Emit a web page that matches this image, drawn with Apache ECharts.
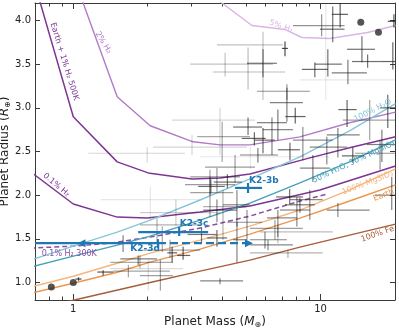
<!DOCTYPE html>
<html>
<head>
<meta charset="utf-8">
<script src="https://cdn.jsdelivr.net/npm/echarts@6/dist/echarts.min.js"></script>
<style>
  html, body { margin: 0; padding: 0; background: #fff; }
  #main { width: 399px; height: 330px; }
</style>
</head>
<body>
<div id="main"></div>
<script>
// axis ticks
const xMajorTicks = [1, 10];
const xMinorTicks = [0.8, 0.9, 2, 3, 4, 5, 6, 7, 8, 9, 20];
const yTicks = [1.0, 1.5, 2.0, 2.5, 3.0, 3.5, 4.0];

// measured planets: [mass, massLo, massHi, radius, radiusLo, radiusHi]
const planets = [
  [7.18, 6.98, 7.38, 3.68, 3.59, 3.76], [5.85, 3.81, 7.05, 3.72, 3.09, 3.87],
  [4.11, 2.97, 6.42, 3.50, 3.36, 3.63], [5.09, 3.67, 7.18, 3.41, 3.21, 3.69],
  [5.85, 5.04, 6.66, 3.51, 3.35, 3.67], [7.31, 5.53, 9.05, 3.19, 3.09, 3.27],
  [11.2, 9.94, 12.5, 3.90, 3.75, 4.16], [12.0, 11.1, 12.9, 4.07, 3.92, 4.20],
  [10.1, 7.73, 12.5, 3.94, 3.82, 4.07], [14.7, 12.8, 16.6, 3.67, 3.52, 3.82],
  [15.5, 13.4, 17.7, 3.53, 3.46, 3.61], [19.6, 17.7, 21.0, 3.53, 3.44, 3.75],
  [10.7, 9.48, 12.2, 3.50, 3.36, 3.67], [9.48, 8.40, 10.7, 3.44, 3.35, 3.52],
  [12.9, 11.1, 15.4, 3.40, 3.27, 3.55], [10.5, 8.25, 20.1, 3.32, 3.09, 4.25],
  [19.8, 18.7, 21.0, 3.99, 3.92, 4.07], [7.31, 6.24, 8.48, 3.06, 2.84, 3.23],
  [12.8, 11.8, 14.0, 2.98, 2.78, 3.09], [18.7, 17.4, 20.1, 3.00, 2.77, 3.15],
  [6.36, 5.85, 7.73, 2.75, 2.46, 2.89], [6.72, 5.53, 7.31, 2.83, 2.63, 2.98],
  [8.48, 7.73, 11.2, 2.63, 2.40, 2.78], [10.6, 9.05, 12.8, 2.55, 2.35, 2.67],
  [11.75, 10.6, 14.4, 2.69, 2.43, 2.77], [9.31, 8.25, 10.9, 2.31, 2.15, 2.46],
  [17.7, 15.4, 20.1, 2.58, 2.38, 2.75], [5.85, 5.43, 6.54, 2.63, 2.48, 2.77],
  [3.92, 2.51, 5.43, 2.86, 2.46, 3.00], [4.00, 3.17, 5.18, 2.67, 2.38, 2.84],
  [3.02, 2.10, 5.04, 2.55, 2.46, 2.69], [1.99, 1.15, 2.83, 2.48, 2.37, 2.55],
  [5.09, 4.43, 5.80, 2.78, 2.69, 2.89], [4.51, 3.41, 5.43, 2.32, 2.14, 2.46],
  [3.81, 2.97, 4.72, 2.21, 2.04, 2.31], [3.57, 2.83, 4.51, 2.12, 2.00, 2.29],
  [5.58, 4.72, 6.72, 2.46, 2.37, 2.54], [7.52, 6.72, 8.25, 2.52, 2.40, 2.60],
  [19.4, 16.6, 21.0, 2.00, 1.83, 2.21], [9.05, 7.52, 10.2, 1.95, 1.72, 2.06],
  [8.02, 6.85, 9.05, 1.83, 1.64, 1.98], [11.75, 10.6, 15.8, 1.83, 1.75, 1.91],
  [6.72, 6.07, 8.02, 1.74, 1.52, 1.83], [6.54, 5.18, 8.48, 1.62, 1.49, 1.72],
  [6.72, 5.69, 11.2, 1.58, 1.45, 1.66], [5.96, 5.18, 7.31, 1.49, 1.39, 1.58],
  [6.13, 5.18, 7.73, 1.43, 1.37, 1.49], [7.38, 5.18, 10.2, 1.34, 1.28, 1.37],
  [8.25, 7.18, 9.48, 1.89, 1.80, 1.97], [4.03, 3.35, 5.04, 1.87, 1.49, 2.06],
  [4.59, 4.03, 5.18, 1.89, 1.64, 2.06], [3.81, 3.48, 4.19, 1.51, 1.41, 1.60],
  [4.59, 4.43, 5.04, 1.49, 1.23, 1.69], [1.86, 1.41, 2.53, 1.23, 1.16, 1.31],
  [1.32, 1.25, 1.45, 1.12, 1.08, 1.14], [2.01, 1.41, 2.78, 1.16, 0.91, 1.26],
  [2.51, 2.40, 2.63, 1.34, 1.23, 1.41], [2.78, 2.63, 2.97, 1.31, 1.26, 1.41],
  [2.46, 1.92, 3.26, 1.37, 1.28, 1.49], [2.25, 1.86, 2.53, 1.08, 0.91, 1.26],
  [3.92, 3.26, 4.86, 1.02, 0.98, 1.05], [1.67, 1.45, 2.46, 1.13, 1.06, 1.20],
  [1.83, 1.55, 2.18, 1.27, 1.20, 1.31], [2.18, 1.86, 3.26, 1.66, 1.46, 1.74],
  [2.29, 1.99, 3.26, 1.58, 1.35, 1.64], [3.57, 2.97, 4.43, 2.03, 1.75, 2.21],
  [3.81, 3.35, 4.59, 1.83, 1.69, 1.95], [5.04, 4.19, 5.80, 1.69, 1.49, 1.83],
  [1.59, 1.41, 1.92, 1.45, 1.35, 1.54], [1.05, 1.02, 1.08, 1.04, 1.02, 1.06],
  [15.8, 12.3, 20.1, 2.86, 2.63, 3.09], [17.4, 13.8, 21.0, 2.48, 2.29, 2.63],
  [2.05, 1.29, 3.26, 1.95, 1.72, 2.10], [5.2, 3.26, 10.9, 2.44, 2.30, 2.55],
  [2.6, 1.86, 3.92, 1.80, 1.65, 1.95], [3.6, 3.2, 4.1, 2.10, 2.02, 2.18],
  [4.2, 3.7, 4.8, 2.15, 2.08, 2.24], [7.9, 7.2, 8.7, 2.90, 2.82, 3.00],
  [5.4, 4.8, 6.0, 2.65, 2.57, 2.72], [13.5, 12.2, 15.0, 2.45, 2.37, 2.55],
  [3.3, 2.9, 3.8, 1.55, 1.46, 1.63], [7.5, 6.6, 8.5, 1.98, 1.90, 2.07]
];

// Venus, Earth, Uranus, Neptune
const solarSystem = [[0.815, 0.949], [1.0, 1.0], [14.54, 3.98], [17.15, 3.865]];

// K2-3 b and c: [mass, massLo, massHi, radius, radiusLo, radiusHi]
const k23bc = [[5.09, 4.51, 5.80, 2.083, 2.025, 2.14], [2.68, 1.83, 3.51, 1.577, 1.532, 1.635]];
// K2-3 d: [mass, radius, radiusLo, radiusHi], mass arrows (upper limit left, dashed right)
const k23d = [2.20, 1.451, 1.394, 1.497];
const k23dArrows = [1.04, 5.33];

// composition models [mass, radius]
const h2_1pct500K = [[0.727, 4.25], [1.0, 2.898], [1.505, 2.381], [2.008, 2.255], [3.023, 2.186], [3.92, 2.197], [5.18, 2.243], [9.05, 2.427], [13.1, 2.542], [20.1, 2.668]];
const h2_2pct = [[1.08, 4.25], [1.505, 3.127], [2.046, 2.795], [3.052, 2.611], [3.92, 2.576], [5.18, 2.576], [8.25, 2.668], [13.1, 2.829], [20.1, 2.95]];
const h2_5pct = [[3.78, 4.25], [5.28, 3.943], [7.18, 3.897], [8.40, 3.805], [10.9, 3.793], [15.5, 3.862], [20.1, 3.943]];
const h2_01pct = [[0.67, 2.27], [1.0, 1.899], [1.505, 1.749], [1.99, 1.738], [3.256, 1.807], [5.18, 1.876], [9.94, 2.06], [20.1, 2.335]];
const h2_01pct300K = [[0.67, 1.394], [1.0, 1.417], [1.411, 1.451], [2.046, 1.52], [3.256, 1.623], [5.18, 1.761], [8.25, 1.933], [10.7, 2.014]];
const water100 = [[0.67, 1.256], [1.0, 1.417], [1.505, 1.577], [2.046, 1.715], [3.256, 1.945], [5.18, 2.186], [8.25, 2.439], [13.1, 2.737], [20.1, 3.047]];
const water50 = [[0.67, 1.176], [1.0, 1.302], [1.505, 1.428], [2.046, 1.532], [3.256, 1.715], [5.18, 1.91], [8.25, 2.14], [13.1, 2.381], [20.1, 2.634]];
const mgsio3 = [[0.67, 0.946], [1.0, 1.072], [1.505, 1.221], [2.046, 1.336], [3.256, 1.486], [5.18, 1.646], [8.25, 1.83], [13.1, 2.06], [20.1, 2.301]];
const earthLike = [[0.67, 0.877], [1.0, 0.992], [1.505, 1.118], [2.046, 1.233], [3.256, 1.383], [5.18, 1.555], [8.25, 1.738], [13.1, 1.933], [20.1, 2.117]];
const iron100 = [[0.67, 0.68], [1.0, 0.797], [2.046, 1.0], [3.256, 1.13], [5.18, 1.256], [8.25, 1.405], [13.1, 1.543], [20.1, 1.669]];

// text labels and where they sit [mass, radius]
const labelTexts = ['Earth + 1% H₂ 500K', '2% H₂', '5% H₂', '0.1% H₂', '0.1% H₂ 300K', '100% H₂O',
  '50% H₂O, 50% MgSiO₃', '100% MgSiO₃', 'Earth', '100% Fe', 'K2-3b', 'K2-3c', 'K2-3d'];
const labelAnchors = [[0.92, 3.53], [1.322, 3.747], [6.92, 3.931], [0.854, 2.117], [0.963, 1.325], [16.26, 2.967],
  [13.6, 2.381], [15.5, 2.14], [18.0, 2.0], [17.0, 1.555], [5.90, 2.163], [3.08, 1.669], [1.953, 1.383]];

const FONT = 'DejaVu Sans';
const purpleDark = '#7e3595', purpleMid = '#b27bc8', purpleLight = '#d9b6e4', purpleDash = '#8a4ea6';
const cyanLight = '#86c6d8', teal = '#46a0ba', orangeLight = '#f4b67c', orange = '#ec964c', brown = '#a65d39';
const blue = '#1f77b4';
// rotation (deg), colour, font for each label
const labelStyles = [
  [-73, purpleDark, '8px'], [-59, purpleMid, '8px'], [-20, purpleLight, '8px'], [-40, purpleDark, '8px'],
  [0, purpleDash, '8px'], [27, cyanLight, '8px'], [25, teal, '8px'], [21, orangeLight, '8px'],
  [22, orange, '8px'], [19, brown, '8px'], [0, blue, 'bold 9px'], [0, blue, 'bold 9px'], [0, blue, 'bold 9px']
];

const chart = echarts.init(document.getElementById('main'), null, {renderer: 'canvas'});

function curve(data, color, width, dashed) {
  return {
    type: 'line', data: data, showSymbol: false, silent: true, z: 2, clip: true,
    lineStyle: {color: color, width: width, type: dashed ? [5, 3] : 'solid'}
  };
}

// grey error bars, fainter when the errors are larger
function errorBarItem(params, api) {
  const m = api.value(0), mLo = api.value(1), mHi = api.value(2);
  const r = api.value(3), rLo = api.value(4), rHi = api.value(5);
  const c = api.coord([m, r]);
  const xl = api.coord([mLo, r])[0], xh = api.coord([mHi, r])[0];
  const yl = api.coord([m, rLo])[1], yh = api.coord([m, rHi])[1];
  const spread = Math.log10(mHi / mLo) + Math.log10(rHi / rLo);
  const a = Math.min(0.8, Math.max(0.1, 0.85 - 1.6 * spread));
  const style = {stroke: 'rgba(25,25,25,' + a.toFixed(3) + ')', lineWidth: 1.2};
  return {
    type: 'group', children: [
      {type: 'line', shape: {x1: xl, y1: c[1], x2: xh, y2: c[1]}, style: style},
      {type: 'line', shape: {x1: c[0], y1: yl, x2: c[0], y2: yh}, style: style}
    ]
  };
}

function k2Item(params, api) {
  const m = api.value(0), r = api.value(3);
  const c = api.coord([m, r]);
  const xl = api.coord([api.value(1), r])[0], xh = api.coord([api.value(2), r])[0];
  const yl = api.coord([m, api.value(4)])[1], yh = api.coord([m, api.value(5)])[1];
  const style = {stroke: blue, lineWidth: 2.2};
  return {
    type: 'group', children: [
      {type: 'line', shape: {x1: xl, y1: c[1], x2: xh, y2: c[1]}, style: style},
      {type: 'line', shape: {x1: c[0], y1: yl, x2: c[0], y2: yh}, style: style}
    ]
  };
}

function k2dItem(params, api) {
  const m = api.value(0), r = api.value(1);
  const c = api.coord([m, r]);
  const yl = api.coord([m, api.value(2)])[1], yh = api.coord([m, api.value(3)])[1];
  const edge = api.coord([0.5, r])[0];
  const tipL = api.coord([k23dArrows[0], r])[0];
  const tipR = api.coord([k23dArrows[1], r])[0];
  const style = {stroke: blue, lineWidth: 2.2};
  return {
    type: 'group', children: [
      {type: 'line', shape: {x1: edge, y1: c[1], x2: c[0], y2: c[1]}, style: style},
      {type: 'line', shape: {x1: c[0], y1: yl, x2: c[0], y2: yh}, style: style},
      {type: 'line', shape: {x1: c[0], y1: c[1], x2: tipR - 4, y2: c[1]}, style: {stroke: blue, lineWidth: 2.2, lineDash: [8, 4]}},
      {type: 'polygon', shape: {points: [[tipL, c[1]], [tipL + 8, c[1] - 4], [tipL + 8, c[1] + 4]]}, style: {fill: blue}},
      {type: 'polygon', shape: {points: [[tipR, c[1]], [tipR - 8, c[1] - 4], [tipR - 8, c[1] + 4]]}, style: {fill: blue}}
    ]
  };
}

function labelItem(params, api) {
  const c = api.coord([api.value(0), api.value(1)]);
  const st = labelStyles[params.dataIndex];
  return {
    type: 'text', x: c[0], y: c[1], rotation: st[0] * Math.PI / 180,
    style: {text: labelTexts[params.dataIndex], fill: st[1], font: st[2] + ' ' + FONT, align: 'center', verticalAlign: 'middle'}
  };
}

const axisColor = '#3a3a3a';
function xAx(pos, ticks, len, main) {
  return {
    type: 'log', logBase: 10, min: 0.7, max: 20, position: pos,
    axisLine: {show: main, onZero: false, lineStyle: {color: axisColor, width: 1}},
    axisTick: {show: true, inside: true, length: len, customValues: ticks, lineStyle: {color: axisColor}},
    axisLabel: {show: main && pos === 'bottom', customValues: ticks, color: '#222', fontSize: 10, fontFamily: FONT, margin: 4},
    splitLine: {show: false}, minorTick: {show: false}
  };
}
function yAx(pos) {
  return {
    type: 'value', min: 0.8, max: 4.2, position: pos,
    axisLine: {show: true, onZero: false, lineStyle: {color: axisColor, width: 1}},
    axisTick: {show: true, inside: true, length: 5, customValues: yTicks, lineStyle: {color: axisColor}},
    axisLabel: {show: pos === 'left', customValues: yTicks, color: '#222', fontSize: 10, fontFamily: FONT, margin: 4,
      formatter: v => Number(v).toFixed(1)},
    splitLine: {show: false}
  };
}

const xAxes = [xAx('bottom', xMajorTicks, 6, true), xAx('bottom', xMinorTicks, 3.5, false),
  xAx('top', xMajorTicks, 6, true), xAx('top', xMinorTicks, 3.5, false)];
xAxes[0].name = '{n|Planet Mass (}{i|M}{s|⊕}{n|)}';
xAxes[0].nameLocation = 'middle';
xAxes[0].nameGap = 14;
xAxes[0].nameMoveOverlap = false;
const yAxes = [yAx('left'), yAx('right')];
yAxes[0].name = '{n|Planet Radius (}{i|R}{s|⊕}{n|)}';
yAxes[0].nameLocation = 'middle';
yAxes[0].nameGap = 23;
yAxes[0].nameMoveOverlap = false;
const nameStyle = {
  color: '#222', fontFamily: FONT, fontSize: 12,
  rich: {
    n: {fontFamily: FONT, fontSize: 12, color: '#222', lineHeight: 15},
    i: {fontFamily: FONT, fontSize: 12, fontStyle: 'italic', color: '#222', lineHeight: 15},
    s: {fontFamily: FONT, fontSize: 8, color: '#222', lineHeight: 15, verticalAlign: 'bottom'}
  }
};
xAxes[0].nameTextStyle = nameStyle;
yAxes[0].nameTextStyle = nameStyle;

chart.setOption({
  animation: false,
  backgroundColor: '#fff',
  grid: {left: 35, right: 4, top: 3, bottom: 30, containLabel: false, outerBoundsMode: 'none'},
  xAxis: xAxes,
  yAxis: yAxes,
  series: [
    curve(h2_5pct, purpleLight, 1.4),
    curve(h2_2pct, purpleMid, 1.4),
    curve(h2_1pct500K, purpleDark, 1.5),
    curve(h2_01pct, purpleDark, 1.5),
    curve(h2_01pct300K, purpleDash, 1.5, true),
    curve(water100, cyanLight, 1.4),
    curve(water50, teal, 1.4),
    curve(mgsio3, orangeLight, 1.4),
    curve(earthLike, orange, 1.4),
    curve(iron100, brown, 1.4),
    {type: 'custom', data: planets, renderItem: errorBarItem, encode: {x: 0, y: 3}, clip: true, silent: true, z: 3},
    {type: 'scatter', data: solarSystem, symbolSize: 7, itemStyle: {color: '#2a2a2a'}, silent: true, z: 4},
    {type: 'custom', data: k23bc, renderItem: k2Item, encode: {x: 0, y: 3}, clip: true, silent: true, z: 5},
    {type: 'custom', data: [k23d], renderItem: k2dItem, encode: {x: 0, y: 1}, clip: true, silent: true, z: 5},
    {type: 'custom', data: labelAnchors, renderItem: labelItem, encode: {x: 0, y: 1}, silent: true, z: 6}
  ]
});
</script>
</body>
</html>
